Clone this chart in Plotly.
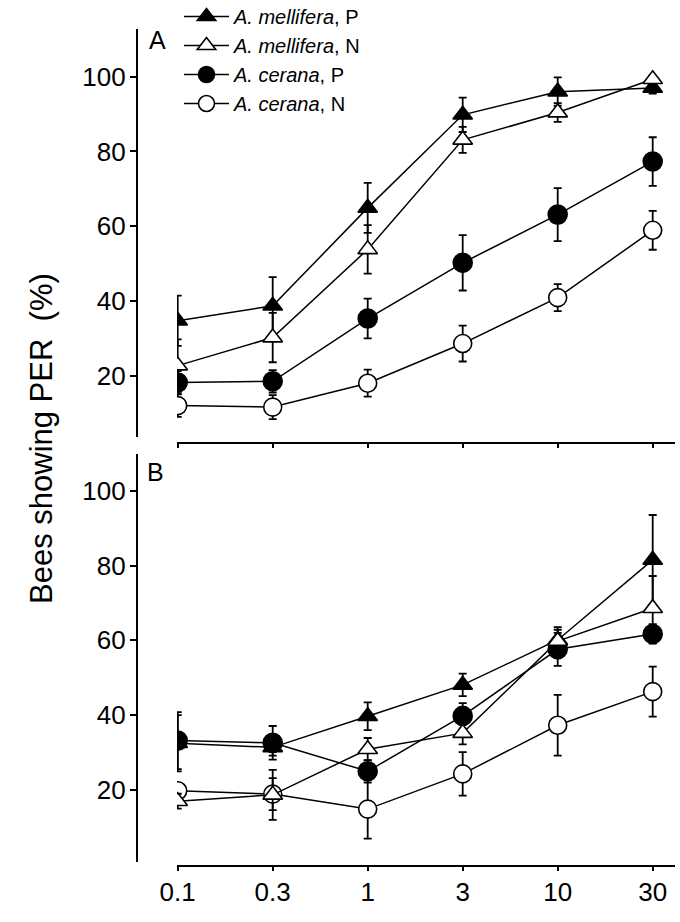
import plotly.graph_objects as go

W, H = 680, 922

# ---- data ----
x_labels = ['0.1', '0.3', '1', '3', '10', '30']
x_idx = [0, 1, 2, 3, 4, 5]

names = ['<i>A. mellifera</i>, P', '<i>A. mellifera</i>, N',
         '<i>A. cerana</i>, P', '<i>A. cerana</i>, N']

# Panel A
mellP_A = [34.7, 38.7, 64.9, 89.8, 96.0, 97.0]
mellP_A_se = [6.7, 7.7, 6.7, 4.6, 3.8, 1.5]
mellN_A = [22.7, 30.2, 53.8, 83.1, 90.4, 99.3]
mellN_A_se = [7.0, 6.6, 6.5, 3.5, 2.5, 1.0]
ceraP_A = [18.2, 18.5, 35.3, 50.2, 63.1, 77.3]
ceraP_A_se = [3.0, 3.0, 5.3, 7.4, 7.1, 6.5]
ceraN_A = [12.0, 11.6, 18.0, 28.6, 40.9, 58.9]
ceraN_A_se = [3.0, 3.2, 3.6, 4.8, 3.6, 5.2]

# Panel B
mellP_B = [32.5, 31.4, 39.7, 48.1, 60.1, 81.5]
mellP_B_se = [7.5, 2.2, 3.7, 3.0, 3.4, 12.0]
mellN_B = [17.0, 18.7, 30.9, 35.2, 59.8, 68.6]
mellN_B_se = [2.0, 6.7, 3.0, 3.0, 3.0, 8.6]
ceraP_B = [33.2, 32.6, 25.0, 39.8, 57.6, 61.7]
ceraP_B_se = [7.6, 4.5, 3.0, 3.4, 4.4, 2.6]
ceraN_B = [19.8, 18.9, 14.9, 24.3, 37.3, 46.3]
ceraN_B_se = [2.0, 4.3, 7.9, 5.8, 8.1, 6.7]

yticks = [20, 40, 60, 80, 100]

# ---- styles ----
FONT = 'Liberation Sans, Arial, sans-serif'
styles = {
    'mellP': dict(symbol='triangle-up', color='black', size=17, rank=1),
    'mellN': dict(symbol='triangle-up', color='white', size=17, rank=2),
    'ceraP': dict(symbol='circle', color='black', size=19, rank=3),
    'ceraN': dict(symbol='circle', color='white', size=18, rank=4),
}
label_of = {'mellP': names[0], 'mellN': names[1], 'ceraP': names[2], 'ceraN': names[3]}

fig = go.Figure()

def add(key, y, se, xa, ya, show):
    st = styles[key]
    fig.add_trace(go.Scatter(
        x=x_idx, y=y, mode='lines+markers', name=label_of[key],
        xaxis=xa, yaxis=ya, showlegend=show, legendrank=st['rank'],
        legendgroup=key,
        line=dict(color='black', width=1.5),
        marker=dict(symbol=st['symbol'], size=st['size'], color=st['color'],
                    line=dict(color='black', width=1.6)),
        error_y=dict(type='data', array=se, visible=True, color='black',
                     thickness=1.8, width=4),
    ))

# drawing order: cerana N, cerana P, mellifera P, mellifera N
for key, yA, sA, yB, sB in [
    ('ceraN', ceraN_A, ceraN_A_se, ceraN_B, ceraN_B_se),
    ('ceraP', ceraP_A, ceraP_A_se, ceraP_B, ceraP_B_se),
    ('mellP', mellP_A, mellP_A_se, mellP_B, mellP_B_se),
    ('mellN', mellN_A, mellN_A_se, mellN_B, mellN_B_se),
]:
    add(key, yA, sA, 'x', 'y', True)
    add(key, yB, sB, 'x2', 'y2', False)

def px(v):
    return v / W

def py(v):
    return 1 - v / H

x_dom = [px(177), px(675)]
x_rng = [-(177.7 - 177) / 95.0, 5 + (675 - 652.7) / 95.0]

common_x = dict(domain=x_dom, range=x_rng, tickvals=x_idx, ticktext=x_labels,
                showline=True, linecolor='black', linewidth=1.5,
                ticks='outside', ticklen=5, tickwidth=1.5, tickcolor='black',
                showgrid=False, zeroline=False, anchor='free', automargin=False,
                ticklabelstandoff=-1,
                tickfont=dict(family=FONT, size=26, color='black'))
common_y = dict(tickvals=yticks, showline=True, linecolor='black', linewidth=1.5,
                ticks='outside', ticklen=6, tickwidth=1.5, tickcolor='black',
                showgrid=False, zeroline=False, anchor='free', position=px(136.7),
                ticklabelstandoff=-1, automargin=False,
                tickfont=dict(family=FONT, size=26, color='black'))

# Panel A: y pixels 29.3 .. 437 ; 100 at 76.7, 20 at 375.7
sA = (375.7 - 76.7) / 80.0
yA_top = 100 + (76.7 - 29.3) / sA
yA_bot = 20 - (437 - 375.7) / sA
# Panel B: y pixels 454 .. 862 ; 100 at 490.7, 20 at 790
sB = (790 - 490.7) / 80.0
yB_top = 100 + (490.7 - 454) / sB
yB_bot = 20 - (862 - 790) / sB

fig.update_layout(
    template='none',
    width=W, height=H, autosize=False,
    margin=dict(l=0, r=0, t=0, b=0, pad=0, autoexpand=False),
    paper_bgcolor='white', plot_bgcolor='rgba(0,0,0,0)',
    font=dict(family=FONT, color='black'),
    xaxis=dict(common_x, position=py(442.5), showticklabels=False),
    xaxis2=dict(common_x, position=py(865.5), showticklabels=True),
    yaxis=dict(common_y, domain=[py(437), py(29.3)], range=[yA_bot, yA_top]),
    yaxis2=dict(common_y, domain=[py(862), py(454)], range=[yB_bot, yB_top]),
    legend=dict(x=px(179), y=py(-3), xanchor='left', yanchor='top',
                bgcolor='rgba(0,0,0,0)', font=dict(family=FONT, size=20, color='black'),
                traceorder='normal', tracegroupgap=0, itemwidth=45),
    showlegend=True,
)

fig.add_annotation(text='Bees showing PER  (%)', x=px(41), y=py(439),
                   xref='paper', yref='paper', showarrow=False, textangle=-90,
                   font=dict(family=FONT, size=31, color='black'),
                   xanchor='center', yanchor='middle')
fig.add_annotation(text='A', x=px(157), y=py(40), xref='paper', yref='paper',
                   showarrow=False, font=dict(family=FONT, size=25, color='black'),
                   xanchor='center', yanchor='middle')
fig.add_annotation(text='B', x=px(155), y=py(472), xref='paper', yref='paper',
                   showarrow=False, font=dict(family=FONT, size=25, color='black'),
                   xanchor='center', yanchor='middle')

fig.write_html('out.html', config={'displayModeBar': False},
               post_script="document.body.style.margin='0';document.body.style.padding='0';")
